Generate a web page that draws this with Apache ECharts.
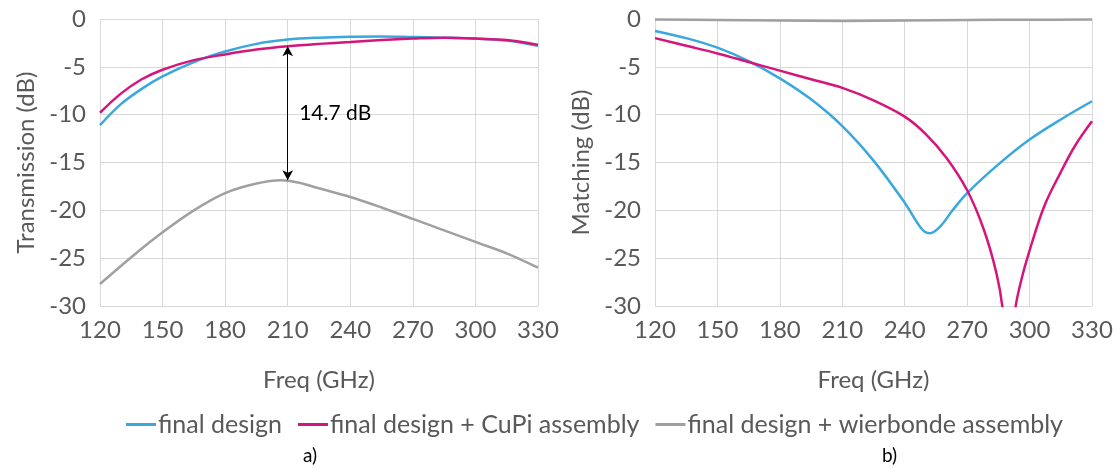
<!DOCTYPE html>
<html lang="en">
<head>
  <meta charset="UTF-8">
  <title>Transmission / Matching</title>
  <style>
    html, body { margin: 0; padding: 0; background: #fff; }
    #chart { width: 1118px; height: 468px; }
  </style>
</head>
<body>
  <div id="chart"></div>
  <script src="https://cdn.jsdelivr.net/npm/echarts@6/dist/echarts.min.js"></script>
  <script>
    // freq (GHz) / value (dB) pairs
    var seriesNames = ['final design', 'final design + CuPi assembly', 'final design + wierbonde assembly']
    var colors = ['#3aa8dd', '#d6157b', '#a0a0a0']
    var xTicks = [120, 150, 180, 210, 240, 270, 300, 330]
    var yTicks = [0, -5, -10, -15, -20, -25, -30]

    // a) transmission
    var transFinal = [[120, -11.1], [130, -8.9], [140, -7.3], [150, -6.0], [165, -4.5], [180, -3.4], [195, -2.6], [210, -2.15], [225, -1.95], [240, -1.85], [255, -1.82], [270, -1.88], [285, -1.95], [300, -2.05], [315, -2.25], [330, -2.8]]
    var transCupi = [[120, -9.8], [130, -7.8], [140, -6.3], [150, -5.3], [165, -4.3], [180, -3.7], [195, -3.2], [210, -2.85], [225, -2.6], [240, -2.4], [255, -2.2], [270, -2.05], [285, -1.95], [300, -2.05], [315, -2.2], [330, -2.7]]
    var transWire = [[120, -27.7], [135, -24.9], [150, -22.3], [165, -20.0], [180, -18.2], [195, -17.2], [207, -16.85], [215, -17.1], [225, -17.7], [240, -18.6], [255, -19.7], [270, -20.9], [285, -22.1], [300, -23.3], [315, -24.5], [330, -26.0]]

    // b) matching
    var matchFinal = [[120, -1.25], [135, -2.0], [150, -3.0], [165, -4.4], [180, -6.2], [195, -8.4], [210, -11.2], [225, -14.8], [240, -19.2], [248, -21.9], [252, -22.4], [257, -21.7], [263, -20.0], [270, -18.2], [285, -15.2], [300, -12.6], [315, -10.5], [330, -8.6]]
    var matchCupi = [[120, -2.0], [135, -2.8], [150, -3.6], [165, -4.5], [180, -5.4], [195, -6.3], [210, -7.2], [225, -8.5], [240, -10.2], [250, -12.0], [260, -14.5], [270, -17.9], [278, -22.0], [284, -26.5], [287, -30.2], [290, -38], [293, -30.5], [296, -27.3], [300, -24.2], [307, -19.6], [315, -16.0], [322, -13.2], [330, -10.7]]
    var matchWire = [[120, -0.05], [150, -0.1], [180, -0.15], [210, -0.2], [240, -0.15], [270, -0.1], [300, -0.08], [330, -0.05]]

    var arrowTop = -2.85
    var arrowBottom = -16.85
    var gapLabel = '14.7 dB'

    var font = 'Lato, "Open Sans", sans-serif'
    var tickColor = '#595959'
    var gridColor = '#d9d9d9'

    function xAxisFor(i) {
      return {
        type: 'value', gridIndex: i, min: 120, max: 330, interval: 30,
        name: 'Freq (GHz)', nameLocation: 'middle', nameGap: 62,
        nameTextStyle: { color: tickColor, fontSize: 24, fontFamily: font },
        axisLine: { show: false }, axisTick: { show: false },
        axisLabel: { color: tickColor, fontSize: 24, fontFamily: font, margin: 12 },
        splitLine: { show: true, lineStyle: { color: gridColor, width: 1 } }
      }
    }
    function yAxisFor(i, name) {
      return {
        type: 'value', gridIndex: i, min: -30, max: 0, interval: 5,
        name: name, nameLocation: 'middle', nameGap: 62,
        nameTextStyle: { color: tickColor, fontSize: 24, fontFamily: font },
        axisLine: { show: false }, axisTick: { show: false },
        axisLabel: { color: tickColor, fontSize: 24, fontFamily: font, margin: 14 },
        splitLine: { show: true, lineStyle: { color: gridColor, width: 1 } }
      }
    }
    function line(name, data, idx, grid) {
      return {
        name: name, type: 'line', data: data, xAxisIndex: grid, yAxisIndex: grid,
        smooth: 0.35, showSymbol: false, symbol: 'none', clip: true,
        lineStyle: { color: colors[idx], width: 2.5 }, itemStyle: { color: colors[idx] }
      }
    }

    var chart = echarts.init(document.getElementById('chart'))
    var cupiLeft = line(seriesNames[1], transCupi, 1, 0)
    cupiLeft.markLine = {
      silent: true, symbol: ['arrow', 'arrow'], symbolSize: [8, 10],
      lineStyle: { color: '#000', width: 1, type: 'solid' },
      label: { show: false },
      data: [[{ coord: [210, arrowTop] }, { coord: [210, arrowBottom] }]]
    }

    chart.setOption({
      animation: false,
      grid: [
        { left: 100, top: 19, width: 438, height: 287 },
        { left: 655, top: 19, width: 437, height: 287 }
      ],
      xAxis: [xAxisFor(0), xAxisFor(1)],
      yAxis: [yAxisFor(0, 'Transmission (dB)'), yAxisFor(1, 'Matching (dB)')],
      legend: {
        data: seriesNames, top: 407, left: 121, itemGap: 16,
        icon: 'rect', itemWidth: 30, itemHeight: 3,
        textStyle: { color: tickColor, fontSize: 25, fontFamily: font, padding: [0, 0, 0, -3] }
      },
      series: [
        line(seriesNames[2], matchWire, 2, 1),
        line(seriesNames[0], matchFinal, 0, 1),
        line(seriesNames[1], matchCupi, 1, 1),
        line(seriesNames[2], transWire, 2, 0),
        line(seriesNames[0], transFinal, 0, 0),
        cupiLeft
      ]
    })

    var labelPos = chart.convertToPixel({ gridIndex: 0 }, [215.5, (arrowTop + arrowBottom) / 2 - 0.2])
    chart.setOption({
      graphic: [
        { type: 'text', left: labelPos[0], top: labelPos[1] - 12, style: { text: gapLabel, fill: '#000', fontSize: 21, fontFamily: font } },
        { type: 'text', left: 303, top: 446, style: { text: 'a)', fill: '#000', fontSize: 19, fontFamily: font } },
        { type: 'text', left: 882, top: 446, style: { text: 'b)', fill: '#000', fontSize: 19, fontFamily: font } }
      ]
    })
  </script>
</body>
</html>
